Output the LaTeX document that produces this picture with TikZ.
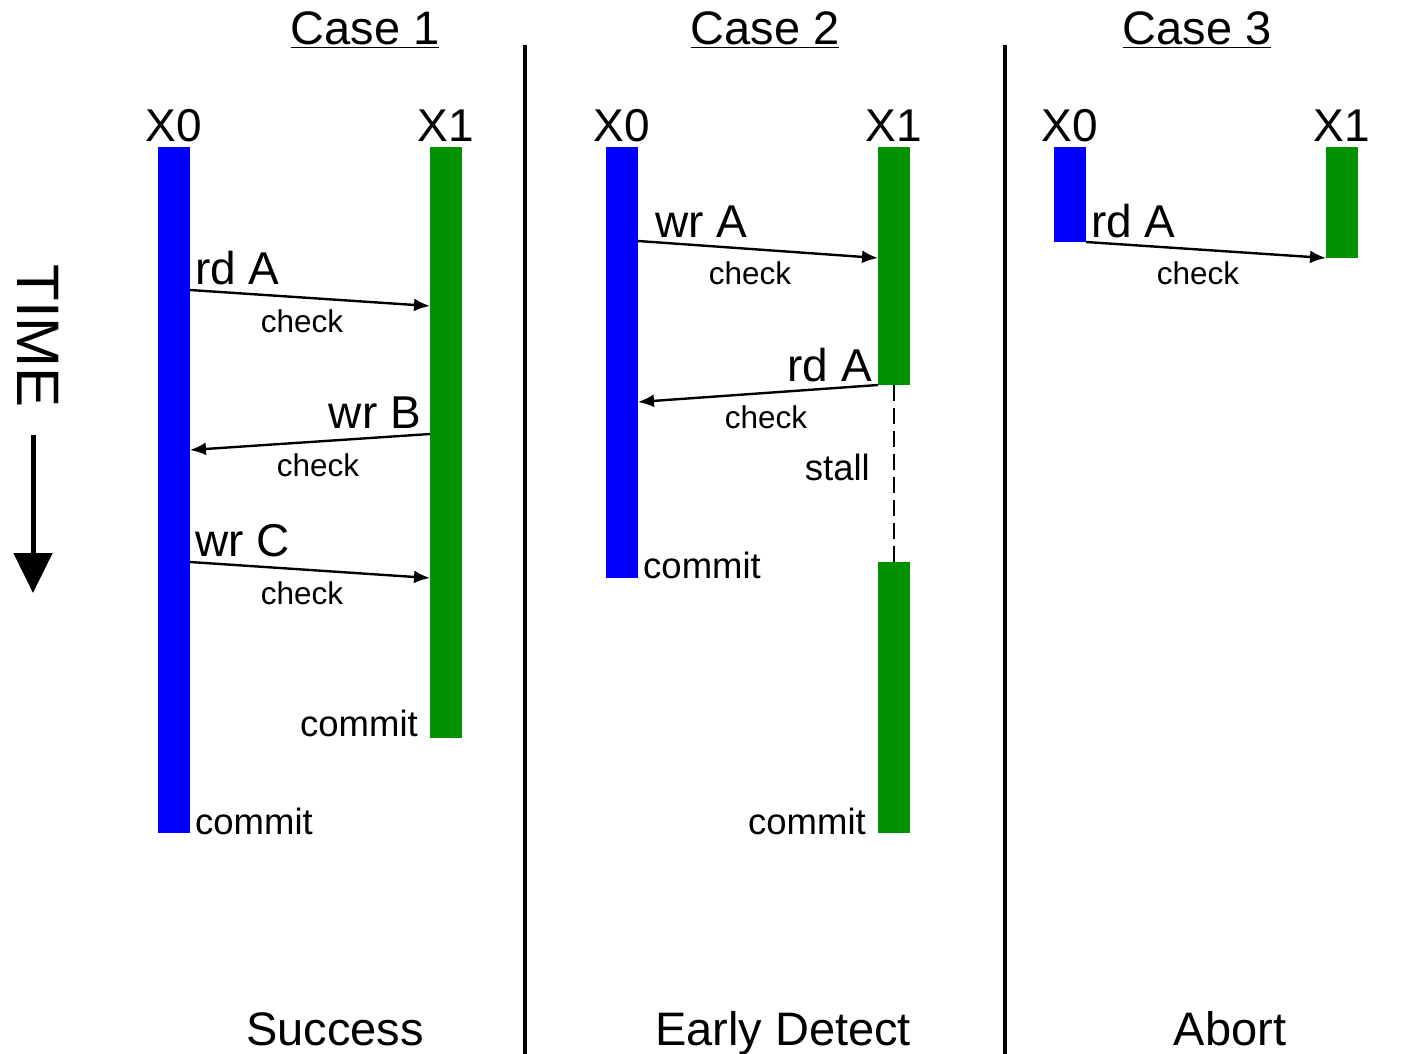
\documentclass[tikz,border=0pt]{standalone}
\usepackage{fontspec}
\setmainfont{Liberation Sans}
\usetikzlibrary{arrows.meta}
\definecolor{xblue}{RGB}{0,0,255}
\definecolor{xgreen}{RGB}{0,146,0}
\begin{document}
\begin{tikzpicture}[x=1pt,y=-1pt,
  lbl/.style={inner sep=0pt,font=\fontsize{46}{46}\selectfont},
  ttl/.style={inner sep=0pt,font=\fontsize{47}{47}\selectfont},
  chk/.style={inner sep=0pt,font=\fontsize{31.5}{31.5}\selectfont},
  cmt/.style={inner sep=0pt,font=\fontsize{36.5}{36.5}\selectfont},
  bluebar/.style={fill=xblue,draw=none,inner sep=0pt,minimum width=32pt,anchor=north},
  greenbar/.style={fill=xgreen,draw=none,inner sep=0pt,minimum width=32pt,anchor=north},
  msg/.style={line width=2.4pt,-{Latex[length=16pt,width=13pt]}},
  sep/.style={line width=4pt},
]
\useasboundingbox (0,0) rectangle (1425,1054);
\fill[white] (0,0) rectangle (1425,1054);

% separators
\coordinate (s1t) at (525,45); \coordinate (s1b) at (525,1054);
\coordinate (s2t) at (1005,45); \coordinate (s2b) at (1005,1054);
\draw[sep] (s1t) -- (s1b);
\draw[sep] (s2t) -- (s2b);

% titles
\node[ttl,anchor=base] (t1) at (365,45) {\underline{Case 1}};
\node[ttl,anchor=base] (t2) at (765,45) {\underline{Case 2}};
\node[ttl,anchor=base] (t3) at (1197,45) {\underline{Case 3}};

% bottom labels
\node[ttl,anchor=base] (b1) at (335,1045) {Success};
\node[ttl,anchor=base] (b2) at (783,1045) {Early Detect};
\node[ttl,anchor=base] (b3) at (1230,1045) {Abort};

% TIME
\node[inner sep=0pt,font=\fontsize{60}{60}\selectfont,rotate=-90] (time) at (38,336) {TIME};
\coordinate (ta) at (33,435); \coordinate (tb) at (33,593);
\draw[line width=5pt,-{Triangle[length=40pt,width=38pt]}] (ta) -- (tb);

% ---------- Case 1 ----------
\node[lbl,anchor=base] (c1l0) at (174,142) {X0};
\node[lbl,anchor=base] (c1l1) at (446,142) {X1};
\node[bluebar,minimum height=686pt] (c1x0) at (174,147) {};
\node[greenbar,minimum height=591pt] (c1x1) at (446,147) {};
\coordinate (c1a1s) at (190,290); \coordinate (c1a1e) at (430,306);
\coordinate (c1a2s) at (430,434); \coordinate (c1a2e) at (190,450);
\coordinate (c1a3s) at (190,562); \coordinate (c1a3e) at (430,578);
\draw[msg] (c1a1s) -- (c1a1e);
\draw[msg] (c1a2s) -- (c1a2e);
\draw[msg] (c1a3s) -- (c1a3e);
\node[lbl,anchor=base west] (c1rdA) at (195,284) {rd A};
\node[chk,anchor=base] (c1c1) at (302,332) {check};
\node[lbl,anchor=base east] (c1wrB) at (421,428) {wr B};
\node[chk,anchor=base] (c1c2) at (318,476) {check};
\node[lbl,anchor=base west] (c1wrC) at (195,556) {wr C};
\node[chk,anchor=base] (c1c3) at (302,604) {check};
\node[cmt,anchor=base east] (c1cm1) at (418,736) {commit};
\node[cmt,anchor=base west] (c1cm0) at (195,834) {commit};

% ---------- Case 2 ----------
\node[lbl,anchor=base] (c2l0) at (622,142) {X0};
\node[lbl,anchor=base] (c2l1) at (894,142) {X1};
\node[bluebar,minimum height=431pt] (c2x0) at (622,147) {};
\node[greenbar,minimum height=238pt] (c2x1) at (894,147) {};
\node[greenbar,minimum height=271pt] (c2x1b) at (894,562) {};
\coordinate (c2a1s) at (638,241); \coordinate (c2a1e) at (878,258);
\coordinate (c2a2s) at (878,385); \coordinate (c2a2e) at (638,402);
\draw[msg] (c2a1s) -- (c2a1e);
\draw[msg] (c2a2s) -- (c2a2e);
\draw[line width=2.6pt,dash pattern=on 16pt off 7pt] (c2x1.south) -- (c2x1b.north);
\node[lbl,anchor=base west] (c2wrA) at (655,237) {wr A};
\node[chk,anchor=base] (c2c1) at (750,284) {check};
\node[lbl,anchor=base east] (c2rdA) at (872,381) {rd A};
\node[chk,anchor=base] (c2c2) at (766,428) {check};
\node[cmt,anchor=base east] (c2st) at (870,480) {stall};
\node[cmt,anchor=base west] (c2cm0) at (643,578) {commit};
\node[cmt,anchor=base east] (c2cm1) at (866,834) {commit};

% ---------- Case 3 ----------
\node[lbl,anchor=base] (c3l0) at (1070,142) {X0};
\node[lbl,anchor=base] (c3l1) at (1342,142) {X1};
\node[bluebar,minimum height=95pt] (c3x0) at (1070,147) {};
\node[greenbar,minimum height=111pt] (c3x1) at (1342,147) {};
\coordinate (c3a1s) at (1086,242); \coordinate (c3a1e) at (1326,258);
\draw[msg] (c3a1s) -- (c3a1e);
\node[lbl,anchor=base west] (c3rdA) at (1091,237) {rd A};
\node[chk,anchor=base] (c3c1) at (1198,284) {check};
\end{tikzpicture}
\end{document}
